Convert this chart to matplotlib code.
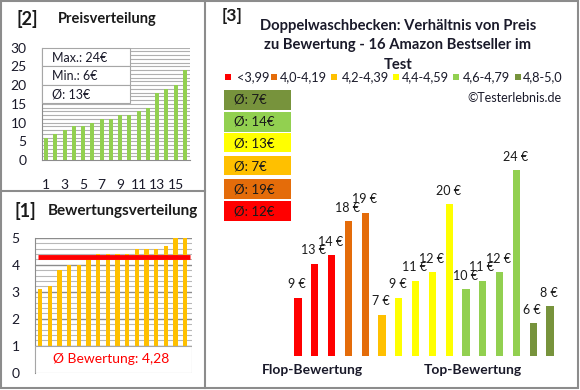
import numpy as np
import matplotlib
matplotlib.use('Agg')
import matplotlib.pyplot as plt
from matplotlib.patches import Rectangle
from matplotlib.lines import Line2D

plt.rcParams['font.family'] = ['Lato', 'DejaVu Sans']

# data
prices_sorted = [6, 7, 8, 9, 9, 10, 11, 11, 12, 12, 13, 14, 18, 19, 20, 24]
ratings_sorted = [3.1, 3.2, 3.8, 4.0, 4.0, 4.2, 4.4, 4.4, 4.4, 4.4, 4.6, 4.6, 4.6, 4.7, 5.0, 5.0]
rating_avg = 4.28
price_stats = ['Max.: 24€', 'Min.: 6€', 'Ø: 13€']

main_prices = [9, 13, 14, 18, 19, 7, 9, 11, 12, 20, 10, 11, 12, 24, 6, 8]
main_groups = [0, 0, 0, 1, 1, 2, 3, 3, 3, 3, 4, 4, 4, 4, 5, 5]
group_labels = ['<3,99', '4,0-4,19', '4,2-4,39', '4,4-4,59', '4,6-4,79', '4,8-5,0']
group_colors = ['#FF0000', '#E46C0A', '#FFC000', '#FFFF00', '#92D050', '#77933C']
group_avgs = ['Ø: 12€', 'Ø: 19€', 'Ø: 7€', 'Ø: 13€', 'Ø: 14€', 'Ø: 7€']

W, H = 580, 390
fig = plt.figure(figsize=(W / 100, H / 100), dpi=100)
dark = '#1a1a2a'


def px_axes(x0, y0, x1, y1, **kw):
    return fig.add_axes([x0 / W, 1 - y1 / H, (x1 - x0) / W, (y1 - y0) / H], **kw)


def fx(x):
    return x / W


def fy(y):
    return 1 - y / H


# frame lines
border = '#8c8c8c'
fig.add_artist(Rectangle((fx(1), fy(388)), fx(577), 387 / H, fill=False,
                         ec=border, lw=1.5, transform=fig.transFigure))
fig.add_artist(Line2D([fx(205), fx(205)], [fy(1), fy(388)], color=border, lw=1.5))
fig.add_artist(Line2D([fx(1), fx(205)], [fy(191), fy(191)], color=border, lw=1.5))

# [2] price distribution
ax = px_axes(42, 47.7, 190, 160)
x = np.arange(1, 17)
for v in range(1, 31):
    ax.axhline(v, color='#b0b0b0', lw=0.8, zorder=0)
ax.bar(x, prices_sorted, width=0.45, color='#92D050', zorder=2)
ax.set_xlim(0.55, 16.55)
ax.set_ylim(0, 30)
ax.set_yticks(range(0, 31, 5))
ax.set_xticks(range(1, 16, 2))
ax.tick_params(length=0, labelsize=10, colors=dark)
ax.tick_params(axis='x', pad=14)
ax.tick_params(axis='y', pad=11)
for s in ['top', 'right']:
    ax.spines[s].set_visible(False)
for s in ['left', 'bottom']:
    ax.spines[s].set_color('#8c8c8c')
# stats box
for i, t in enumerate(price_stats):
    y0 = 48 + i * 18.3
    fig.add_artist(Rectangle((fx(42), fy(y0 + 18.3)), fx(88), 18.3 / H, fc='white',
                             ec='#a6a6a6', lw=0.8, transform=fig.transFigure, zorder=5))
    fig.text(fx(52), fy(y0 + 9.5), t, fontsize=9, va='center', color=dark, zorder=6)
fig.text(fx(16), fy(19), '[2]', fontsize=13, fontweight='bold', va='center', color='#1a1a1a')
fig.text(fx(58), fy(19), 'Preisverteilung', fontsize=10.5, fontweight='bold', va='center',
         color='#1a1a1a')

# [1] rating distribution
ax = px_axes(35, 237.7, 192, 372.7)
for v in np.arange(1, 5.01, 0.2):
    major = abs(v - round(v)) < 1e-6
    ax.axhline(v, color='#8c8c8c' if major else '#b8b8b8', lw=1.0 if major else 0.8, zorder=0)
ax.bar(x, ratings_sorted, width=0.45, color='#FFC000', zorder=2)
ax.plot([0.8, 16.5], [rating_avg, rating_avg], color='#FF0000', lw=3.5, zorder=3,
        solid_capstyle='butt')
ax.set_xlim(0.48, 16.72)
ax.set_ylim(0, 5)
ax.set_yticks(range(0, 6))
ax.set_xticks([])
ax.tick_params(length=0, labelsize=10, colors=dark, pad=11)
for s in ['top', 'right', 'bottom']:
    ax.spines[s].set_visible(False)
ax.spines['left'].set_color('#8c8c8c')
ax.add_patch(Rectangle((0.48, 0), 16.24, 1, fc='white', ec='#a6a6a6', lw=0.8, zorder=4))
fig.text(fx(111), fy(359), 'Ø Bewertung: 4,28', color='#FF0000', fontsize=10, ha='center',
         va='center', zorder=5)
fig.text(fx(14), fy(211), '[1]', fontsize=13, fontweight='bold', va='center', color='#1a1a1a')
fig.text(fx(48), fy(211), 'Bewertungsverteilung', fontsize=11, fontweight='bold', va='center',
         color='#1a1a1a')

# [3] main chart
fig.text(fx(222), fy(16), '[3]', fontsize=12.5, fontweight='bold', va='center', color='#1a1a1a')
for i, line in enumerate(['Doppelwaschbecken: Verhältnis von Preis',
                          'zu Bewertung - 16 Amazon Bestseller im', 'Test']):
    fig.text(fx(398), fy(26 + i * 19.5), line, fontsize=10.6, fontweight='bold', ha='center',
             va='center', color=dark)

# legend
leg_sq = [225, 271, 331, 393, 453, 515]
leg_tx = [237, 280, 342, 402, 463, 523]
for sx, tx, lab, c in zip(leg_sq, leg_tx, group_labels, group_colors):
    fig.add_artist(Rectangle((fx(sx), fy(80)), fx(6), 6 / H, fc=c, ec='none',
                             transform=fig.transFigure))
    fig.text(fx(tx), fy(77.5), lab, fontsize=9.2, va='center', color=dark)
fig.text(fx(562), fy(98), '©Testerlebnis.de', fontsize=9, ha='right', va='center', color=dark)

# average boxes, top to bottom
box_tops = [90, 112, 133, 156, 179, 201]
for top, gi in zip(box_tops, [5, 4, 3, 2, 1, 0]):
    fig.add_artist(Rectangle((fx(224), fy(top + 19.5)), fx(67), 19.5 / H,
                             fc=group_colors[gi], ec='none', transform=fig.transFigure))
    fig.text(fx(234), fy(top + 10), group_avgs[gi], fontsize=9.5, va='center', color='#1a1a1a')

# bars
ax = px_axes(289.6, 150, 558.4, 355.7)
xm = np.arange(16)
cols = [group_colors[g] for g in main_groups]
ax.bar(xm, main_prices, width=0.42, color=cols, bottom=0)
ax.set_xlim(-0.5, 15.5)
ax.set_ylim(2.2, 2.2 + 205.7 / 8.5)
for xi, v in zip(xm, main_prices):
    ax.text(xi - 0.05, v + 1.6, f'{v} €', ha='center', va='center', fontsize=9, color='#1a1a1a')
ax.axis('off')
fig.text(fx(312), fy(370), 'Flop-Bewertung', fontsize=10, fontweight='bold', ha='center',
         va='center', color=dark)
fig.text(fx(473), fy(370), 'Top-Bewertung', fontsize=10, fontweight='bold', ha='center',
         va='center', color=dark)

fig.savefig('out.png', dpi=100)
